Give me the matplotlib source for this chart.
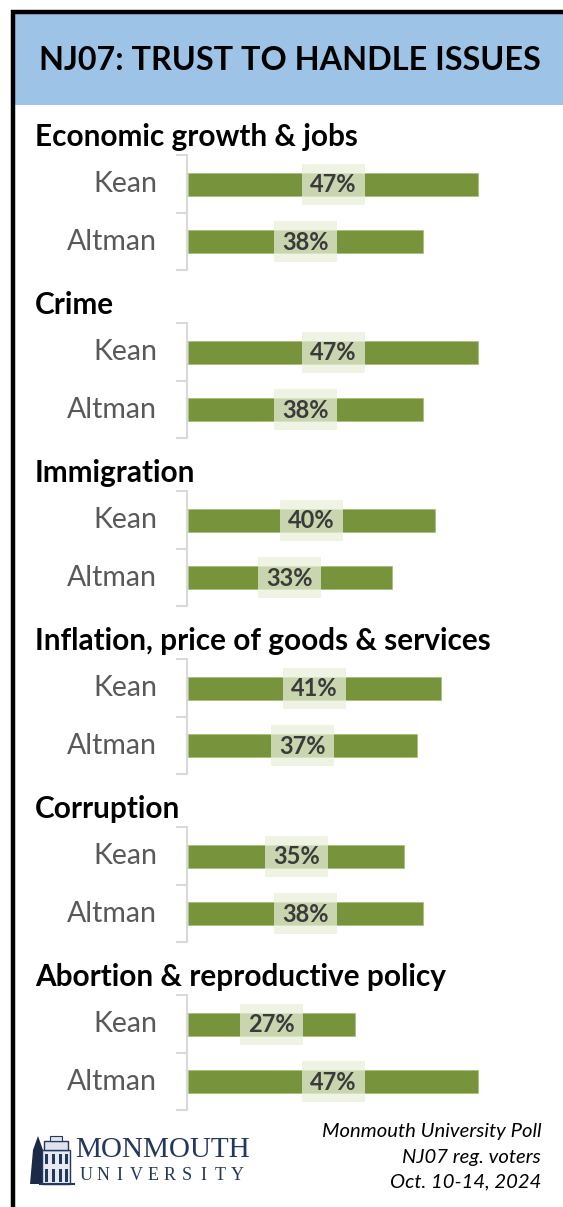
"""
	nj07 trust chart
"""

import matplotlib.pyplot as plt
from matplotlib.patches import Rectangle

issues = ["Economic growth & jobs", "Crime", "Immigration",
	"Inflation, price of goods & services", "Corruption",
	"Abortion & reproductive policy"]
candidates = ["Kean", "Altman"]
kean = [47, 47, 40, 41, 35, 27]
altman = [38, 38, 33, 37, 38, 47]

W, H = 563, 1207
bar_color = "#77933C"
gray_text = "#595959"
navy = "#24375F"

plt.rcParams['font.family'] = ['Lato', 'DejaVu Sans']

fig = plt.figure(figsize=(W/100, H/100), dpi=100)

# decoration layer in pixel coords
deco = fig.add_axes([0, 0, 1, 1])
deco.set_xlim(0, W)
deco.set_ylim(H, 0)
deco.axis("off")

# title band + borders
deco.add_patch(Rectangle((14, 12), W, 93, color="#9DC3E6", lw=0))
deco.plot([13, 13], [10, H], color="black", lw=3.2, solid_capstyle="butt")
deco.plot([11, W], [12, 12], color="black", lw=3.2, solid_capstyle="butt")
deco.text(290, 60, "NJ07: TRUST TO HANDLE ISSUES", fontsize=23.3,
	fontweight="bold", ha="center", va="center", color="black")

# bar layer: 188px start, 6.18 px per point
ax = fig.add_axes([188/W, 0, 6.18*60/W, 1])
ax.set_xlim(0, 60)
ax.set_ylim(H, 0)
ax.axis("off")

step = 168
for i, name in enumerate(issues):
	top = 137 + step*i
	deco.text(35, top, name, fontsize=21.4, fontweight="bold",
		ha="left", va="center", color="black")
	ys = [184 + step*i, 241.5 + step*i]
	vals = [kean[i], altman[i]]
	ax.barh(ys, vals, height=23, color=bar_color, edgecolor="#A9C07A", lw=0.6)
	for y, v, c in zip(ys, vals, candidates):
		ax.add_patch(Rectangle((v/2 - 5.1, y - 20.5), 10.2, 41,
			facecolor="#E8EFD9", alpha=0.73, lw=0))
		ax.text(v/2, y + 1, f"{v}%", fontsize=17, fontweight="bold",
			ha="center", va="center", color="#3A3A3A")
		deco.text(157, y, c, fontsize=20.5, ha="right", va="center",
			color=gray_text)
	# bracket
	b0, b1, b2 = 155 + step*i, 213 + step*i, 270 + step*i
	deco.plot([177, 187, 187, 177], [b0, b0, b2, b2], color="#D9D9D9", lw=1.5)
	deco.plot([177, 187], [b1, b1], color="#D9D9D9", lw=1.5)

# source note
notes = ["Monmouth University Poll", "NJ07 reg. voters", "Oct. 10-14, 2024"]
for k, line in enumerate(notes):
	deco.text(541, 1132 + 25*k, line, fontsize=14.6, style="italic",
		ha="right", va="center", color="black")

# logo: tree + building
deco.add_patch(plt.Polygon([[30, 1184], [33, 1150], [38, 1136], [43, 1150], [44, 1184]],
	color="#1B2A47", lw=0))
deco.add_patch(Rectangle((42, 1150), 28, 34, facecolor="#E6E9F0", edgecolor=navy, lw=1))
deco.add_patch(Rectangle((44, 1141), 24, 9, facecolor="#DDE2EC", edgecolor=navy, lw=1))
deco.add_patch(Rectangle((50, 1136), 12, 5, facecolor="#DDE2EC", edgecolor=navy, lw=0.8))
for wx in [45, 52, 59, 65]:
	deco.add_patch(Rectangle((wx, 1154), 3, 10, color=navy, lw=0))
	deco.add_patch(Rectangle((wx, 1169), 3, 13, color=navy, lw=0))
deco.plot([40, 74], [1184, 1184], color=navy, lw=1.5)
deco.text(75, 1150, "MONMOUTH", fontsize=21, family="Liberation Serif",
	ha="left", va="center", color=navy)
for k, ch in enumerate("UNIVERSITY"):
	deco.text(86 + 16.8*k, 1176, ch, fontsize=13, family="Liberation Serif",
		ha="center", va="center", color=navy)

fig.savefig("out.png", dpi=100)
